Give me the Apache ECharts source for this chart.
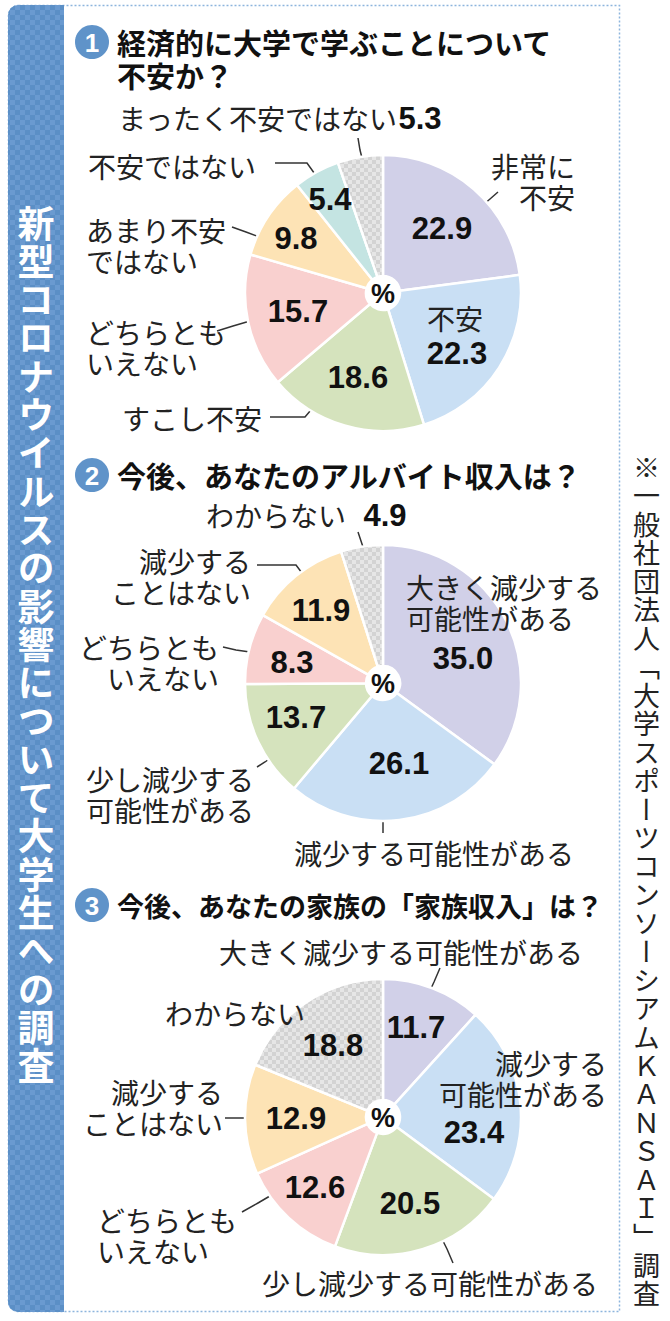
<!DOCTYPE html>
<html>
<head>
<meta charset="utf-8">
<title>新型コロナウイルスの影響について大学生への調査</title>
<script src="https://cdn.jsdelivr.net/npm/echarts@6/dist/echarts.min.js"></script>
<style>
  html, body { margin: 0; padding: 0; background: #fff; }
  #wrap { position: relative; width: 670px; height: 1321px; }
  #main { position: absolute; left: 0; top: 0; width: 670px; height: 1321px; }
  .vt { position: absolute; writing-mode: vertical-rl; white-space: nowrap;
        font-family: "Noto Sans CJK JP", "Noto Sans CJK SC", sans-serif; margin: 0; }
  #band { left: 16px; top: 205px; font-size: 37px; line-height: 40px; letter-spacing: 1.3px;
          font-weight: bold; color: #fff; }
  #source { left: 631px; top: 454px; font-size: 27px; line-height: 30px; letter-spacing: 1.5px;
            color: #222; }
</style>
</head>
<body>
<div id="wrap">
  <div id="main"></div>
  <div class="vt" id="band"></div>
  <div class="vt" id="source"></div>
</div>
<script>
// データ
var q1Names = ['非常に不安', '不安', 'すこし不安', 'どちらともいえない', 'あまり不安ではない', '不安ではない', 'まったく不安ではない'];
var q1Values = [22.9, 22.3, 18.6, 15.7, 9.8, 5.4, 5.3];
var q1Labels = ['非常に\n不安', '不安', 'すこし不安', 'どちらとも\nいえない', 'あまり不安\nではない', '不安ではない', 'まったく不安ではない'];

var q2Names = ['大きく減少する可能性がある', '減少する可能性がある', '少し減少する可能性がある', 'どちらともいえない', '減少することはない', 'わからない'];
var q2Values = [35.0, 26.1, 13.7, 8.3, 11.9, 4.9];
var q2Labels = ['大きく減少する\n可能性がある', '減少する可能性がある', '少し減少する\n可能性がある', 'どちらとも\nいえない', '減少する\nことはない', 'わからない'];

var q3Names = ['大きく減少する可能性がある', '減少する可能性がある', '少し減少する可能性がある', 'どちらともいえない', '減少することはない', 'わからない'];
var q3Values = [11.7, 23.4, 20.5, 12.6, 12.9, 18.8];
var q3Labels = ['大きく減少する可能性がある', '減少する\n可能性がある', '少し減少する可能性がある', 'どちらとも\nいえない', '減少する\nことはない', 'わからない'];

var titles = ['経済的に大学で学ぶことについて\n不安か？', '今後、あなたのアルバイト収入は？', '今後、あなたの家族の「家族収入」は？'];
var mainTitle = '新型コロナウイルスの影響について大学生への調査';
var source = '※一般社団法人「大学スポーツコンソーシアムＫＡＮＳＡＩ」調査';

// 縦書きの見出しと出典
document.getElementById('band').textContent = mainTitle;
document.getElementById('source').textContent = source;

// 模様
function checker(c1, c2, s) {
  var cv = document.createElement('canvas');
  cv.width = cv.height = s * 2;
  var ctx = cv.getContext('2d');
  ctx.fillStyle = c1; ctx.fillRect(0, 0, s * 2, s * 2);
  ctx.fillStyle = c2; ctx.fillRect(0, 0, s, s); ctx.fillRect(s, s, s, s);
  return { image: cv, repeat: 'repeat', imageWidth: s * 2, imageHeight: s * 2 };
}
var grayCheck = checker('#d3d3d3', '#e6e6e6', 4);
var blueCheck = checker('#5b8fc6', '#6a9ad0', 5);

var LAV = '#d1d0e8', BLUE = '#c9dff4', GREEN = '#d5e3bd', PINK = '#f9d0cf', PEACH = '#fde3b5', TEAL = '#c4e4e2';
var q1Colors = [LAV, BLUE, GREEN, PINK, PEACH, TEAL, grayCheck];
var q2Colors = [LAV, BLUE, GREEN, PINK, PEACH, grayCheck];
var q3Colors = [LAV, BLUE, GREEN, PINK, PEACH, grayCheck];

// ラベル位置
var q1Layout = {
  center: [383, 293],
  value: [[442, 228], [457, 353], [358, 377], [298, 311], [296, 238], [330, 199], [420, 118]],
  name: [[575, 181, 'right'], [455, 318, 'center'], [122, 418, 'left'], [86, 347, 'left'], [86, 245, 'left'], [88, 166, 'left'], [118, 118, 'left']],
  line: [[[483, 205], [490, 199], [498, 192]], null, [[270, 417], [305, 417], [316, 404]],
    [[217, 331], [233, 326], [250, 321]], [[232, 227], [246, 232], [262, 238]],
    [[275, 163], [307, 163], [317, 177]], [[358, 138], [360, 150], [363, 162]]]
};
var q2Layout = {
  center: [383, 683],
  value: [[463, 658], [399, 763], [296, 717], [292, 662], [321, 610], [385, 515]],
  name: [[406, 602, 'left'], [294, 853, 'left'], [86, 794, 'left'], [219, 662, 'right'], [251, 576, 'right'], [206, 515, 'left']],
  line: [null, [[383, 815], [383, 824], [383, 833]], [[257, 767], [265, 762], [272, 757]],
    [[223, 647], [236, 650], [250, 652]], [[257, 565], [296, 565], [305, 577]], [[358, 532], [361, 541], [364, 550]]]
};
var q3Layout = {
  center: [383, 1117],
  value: [[416, 1027], [474, 1132], [410, 1203], [315, 1187], [296, 1118], [333, 1045]],
  name: [[219, 952, 'left'], [607, 1078, 'right'], [262, 1283, 'left'], [97, 1235, 'left'], [223, 1107, 'right'], [165, 1013, 'left']],
  line: [[[440, 968], [434, 982], [428, 995]], null, [[440, 1235], [447, 1249], [453, 1263]],
    [[242, 1212], [258, 1203], [275, 1193]], [[225, 1118], [237, 1118], [249, 1118]], null]
};

var JP = '"Noto Sans CJK JP", "Noto Sans CJK SC", sans-serif';
var NUM = '"Liberation Sans", Arial, sans-serif';

function pieSeries(names, values, labels, colors, lay) {
  var base = {
    type: 'pie',
    center: lay.center,
    radius: [17, 138],
    startAngle: 90,
    clockwise: true,
    avoidLabelOverlap: false,
    animation: false,
    emphasis: { disabled: true }
  };
  var inner = Object.assign({}, base, {
    data: names.map(function (n, i) {
      return { name: n, value: values[i], itemStyle: { color: colors[i] } };
    }),
    itemStyle: { borderColor: '#fff', borderWidth: 2.5 },
    label: {
      show: true, position: 'inside',
      formatter: function (p) { return p.value.toFixed(1); },
      fontFamily: NUM, fontWeight: 'bold', fontSize: 31, color: '#111'
    },
    labelLine: { show: false },
    labelLayout: function (p) {
      var v = lay.value[p.dataIndex];
      return { x: v[0], y: v[1], align: 'center', verticalAlign: 'middle' };
    }
  });
  var outer = Object.assign({}, base, {
    silent: true,
    data: names.map(function (n, i) {
      return { name: n, value: values[i], labelLine: { show: !!lay.line[i] } };
    }),
    itemStyle: { color: 'rgba(0,0,0,0)', borderWidth: 0 },
    label: {
      show: true, position: 'outside',
      formatter: function (p) { return labels[p.dataIndex]; },
      fontFamily: JP, fontSize: 28, lineHeight: 31, color: '#222'
    },
    labelLine: { show: true, length: 10, length2: 10, smooth: false, lineStyle: { color: '#333', width: 1.5 } },
    labelLayout: function (p) {
      var nm = lay.name[p.dataIndex];
      var out = { x: nm[0], y: nm[1], align: nm[2], verticalAlign: 'middle' };
      if (lay.line[p.dataIndex]) out.labelLinePoints = lay.line[p.dataIndex];
      return out;
    }
  });
  return [inner, outer];
}

var titleY = [42, 475, 905];
var graphics = [
  { type: 'rect', z: -10, shape: { x: 8.5, y: 5.5, width: 611, height: 1306, r: [10, 0, 0, 10] },
    style: { fill: '#fff', stroke: '#8db5dd', lineWidth: 1.5, lineDash: [2, 2] } },
  { type: 'rect', z: -5, shape: { x: 8, y: 5, width: 56, height: 1307, r: [10, 0, 0, 10] },
    style: { fill: blueCheck } }
];

titles.forEach(function (t, i) {
  graphics.push({ type: 'circle', z: 5, shape: { cx: 92, cy: titleY[i], r: 17 }, style: { fill: '#5f93c9' } });
  graphics.push({ type: 'text', z: 6, x: 92, y: titleY[i] + 1,
    style: { text: String(i + 1), fill: '#fff', fontFamily: NUM, fontWeight: 'bold', fontSize: 26, align: 'center', verticalAlign: 'middle' } });
  graphics.push({ type: 'text', z: 6, x: 117, y: titleY[i] - 16.5,
    style: { text: t, fill: '#111', fontFamily: JP, fontWeight: 'bold', fontSize: i === 2 ? 27 : 29, lineHeight: 33, align: 'left', verticalAlign: 'top' } });
});

[q1Layout, q2Layout, q3Layout].forEach(function (lay) {
  graphics.push({ type: 'text', z: 30, x: lay.center[0], y: lay.center[1] + 1,
    style: { text: '%', fill: '#111', fontFamily: NUM, fontWeight: 'bold', fontSize: 27, align: 'center', verticalAlign: 'middle' } });
});

var myChart = echarts.init(document.getElementById('main'), null, { renderer: 'svg' });
var option = {
  animation: false,
  graphic: { elements: graphics },
  series: [].concat(
    pieSeries(q1Names, q1Values, q1Labels, q1Colors, q1Layout),
    pieSeries(q2Names, q2Values, q2Labels, q2Colors, q2Layout),
    pieSeries(q3Names, q3Values, q3Labels, q3Colors, q3Layout)
  )
};
myChart.setOption(option);
</script>
</body>
</html>
